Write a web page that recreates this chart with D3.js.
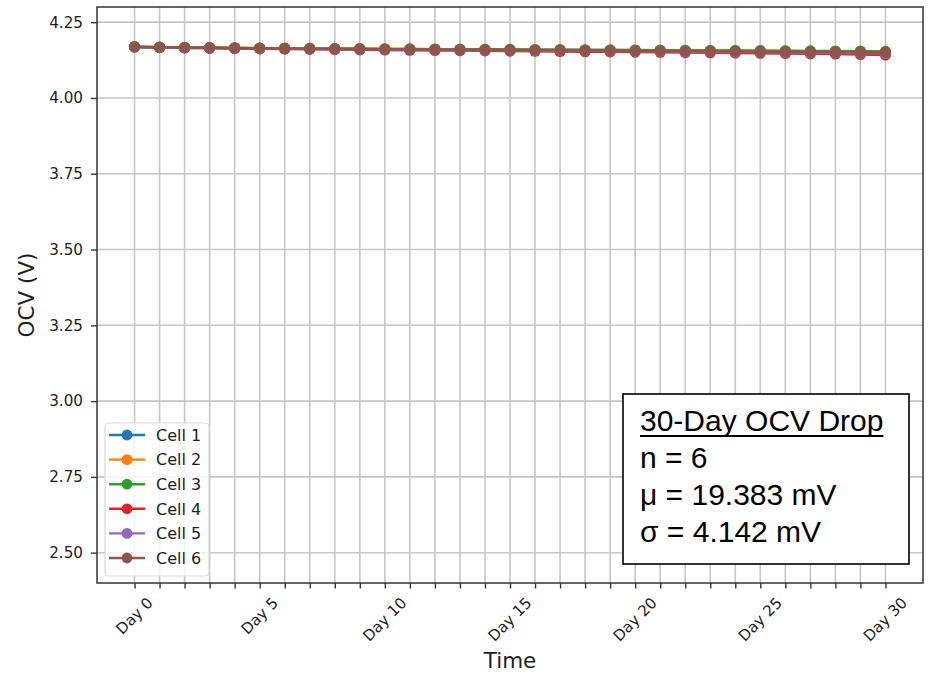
<!DOCTYPE html>
<html><head><meta charset="utf-8">
<script src="https://cdn.jsdelivr.net/npm/d3@7"></script>
<style>body{margin:0;background:#fff}</style>
</head><body><svg id="c" width="930" height="676"></svg>
<script>
// ---- data ----
const days = [0,1,2,3,4,5,6,7,8,9,10,11,12,13,14,15,16,17,18,19,20,21,22,23,24,25,26,27,28,29,30];
const labeledDays = [0,5,10,15,20,25,30];
const yTicks = [2.50,2.75,3.00,3.25,3.50,3.75,4.00,4.25];
const cellNames = ["Cell 1","Cell 2","Cell 3","Cell 4","Cell 5","Cell 6"];
const cellColors = ["#1f77b4","#ff7f0e","#2ca02c","#d62728","#9467bd","#8c564b"];
const cell1 = [4.1685,4.1672,4.1662,4.1653,4.1645,4.1638,4.1631,4.1625,4.1619,4.1613,4.1608,4.1602,4.1597,4.1592,4.1587,4.1582,4.1577,4.1572,4.1567,4.1562,4.1557,4.1552,4.1547,4.1542,4.1537,4.1532,4.1527,4.1521,4.1514,4.1507,4.1498];
const cell2 = [4.1690,4.1678,4.1669,4.1661,4.1654,4.1648,4.1642,4.1636,4.1631,4.1626,4.1621,4.1616,4.1611,4.1607,4.1603,4.1598,4.1594,4.1590,4.1585,4.1581,4.1577,4.1572,4.1568,4.1564,4.1559,4.1555,4.1550,4.1545,4.1540,4.1533,4.1526];
const cell3 = [4.1682,4.1671,4.1663,4.1656,4.1650,4.1644,4.1639,4.1634,4.1629,4.1625,4.1620,4.1616,4.1612,4.1608,4.1604,4.1600,4.1596,4.1592,4.1588,4.1584,4.1580,4.1576,4.1572,4.1568,4.1564,4.1560,4.1556,4.1552,4.1547,4.1542,4.1536];
const cell4 = [4.1680,4.1662,4.1649,4.1638,4.1628,4.1619,4.1611,4.1603,4.1595,4.1588,4.1581,4.1574,4.1567,4.1560,4.1553,4.1546,4.1540,4.1533,4.1526,4.1519,4.1512,4.1505,4.1498,4.1491,4.1484,4.1476,4.1468,4.1459,4.1449,4.1435,4.1419];
const cell5 = [4.1688,4.1673,4.1661,4.1651,4.1642,4.1634,4.1627,4.1620,4.1613,4.1607,4.1601,4.1595,4.1589,4.1583,4.1577,4.1571,4.1566,4.1560,4.1554,4.1548,4.1542,4.1536,4.1530,4.1524,4.1518,4.1512,4.1505,4.1498,4.1490,4.1480,4.1468];
const cell6 = [4.1686,4.1673,4.1663,4.1654,4.1646,4.1639,4.1632,4.1626,4.1620,4.1614,4.1609,4.1603,4.1598,4.1593,4.1588,4.1583,4.1578,4.1573,4.1568,4.1563,4.1558,4.1553,4.1548,4.1543,4.1538,4.1533,4.1528,4.1522,4.1516,4.1509,4.1501];
const statsTitle = "30-Day OCV Drop";
const statsLines = ["n = 6","μ = 19.383 mV","σ = 4.142 mV"];
const xLabel = "Time", yLabel = "OCV (V)";

const series = [cell1,cell2,cell3,cell4,cell5,cell6].map((v,i)=>({name:cellNames[i],color:cellColors[i],values:v}));

// ---- layout ----
const L=97,R=923,T=7,B=583;
const svg=d3.select("#c");
const x=d3.scaleLinear().domain([-1.5,31.5]).range([L,R]);
const y=d3.scaleLinear().domain([2.4,4.3]).range([B,T]);
const tickFont="DejaVu Sans, sans-serif";
const ink="#1e1e1e";
const tickSize=15.2;

// grid
const grid=svg.append("g");
grid.selectAll("line.gx").data(days).join("line")
  .attr("x1",d=>x(d)).attr("x2",d=>x(d)).attr("y1",T).attr("y2",B)
  .attr("stroke","#c6c6c6").attr("stroke-width",1.6);
grid.selectAll("line.gy").data(yTicks).join("line")
  .attr("y1",d=>y(d)).attr("y2",d=>y(d)).attr("x1",L).attr("x2",R)
  .attr("stroke","#c6c6c6").attr("stroke-width",1.6);

// axes
const xAxis=svg.append("g").attr("transform",`translate(0,${B})`)
  .call(d3.axisBottom(x).tickValues(days).tickSize(5.5).tickFormat(""));
const yAxis=svg.append("g").attr("transform",`translate(${L},0)`)
  .call(d3.axisLeft(y).tickValues(yTicks).tickSize(6).tickPadding(8).tickFormat(d3.format(".2f")));
[xAxis,yAxis].forEach(a=>{a.select(".domain").remove();a.selectAll(".tick line").attr("stroke","#333").attr("stroke-width",1.4);});
yAxis.selectAll(".tick text").attr("font-family",tickFont).attr("font-size",tickSize).attr("fill",ink);

// rotated x labels
const xl=svg.append("g");
labeledDays.forEach(d=>{
  const t=xl.append("text").text("Day "+d).attr("font-family",tickFont).attr("font-size",tickSize)
    .attr("fill",ink).attr("text-anchor","middle").attr("dominant-baseline","central");
  const len=t.node().getComputedTextLength();
  const h=(len+tickSize)*Math.SQRT1_2;
  const cy=595+h/2;
  t.attr("transform",`translate(${x(d)},${cy}) rotate(-45)`);
});

// series
const line=d3.line().x((d,i)=>x(days[i])).y(d=>y(d));
series.forEach(s=>{
  const g=svg.append("g");
  g.append("path").attr("d",line(s.values)).attr("fill","none").attr("stroke",s.color).attr("stroke-width",2.4);
  g.selectAll("circle").data(s.values).join("circle")
    .attr("cx",(d,i)=>x(days[i])).attr("cy",d=>y(d)).attr("r",5.6).attr("fill",s.color);
});

// frame
svg.append("rect").attr("x",L).attr("y",T).attr("width",R-L).attr("height",B-T)
  .attr("fill","none").attr("stroke","#333").attr("stroke-width",1.5);

// axis labels
svg.append("text").text(xLabel).attr("x",(L+R)/2).attr("y",668).attr("text-anchor","middle")
  .attr("font-family",tickFont).attr("font-size",21.5).attr("fill",ink);
svg.append("text").text(yLabel).attr("transform",`translate(34,${(T+B)/2}) rotate(-90)`).attr("text-anchor","middle")
  .attr("font-family",tickFont).attr("font-size",21.5).attr("fill",ink);

// legend
const lg=svg.append("g");
lg.append("rect").attr("x",105).attr("y",423).attr("width",104).attr("height",153).attr("rx",4)
  .attr("fill","#fff").attr("fill-opacity",0.8).attr("stroke","#d9d9d9").attr("stroke-width",1.2);
series.forEach((s,i)=>{
  const cy=435+i*24.6;
  lg.append("line").attr("x1",109).attr("x2",145).attr("y1",cy).attr("y2",cy).attr("stroke",s.color).attr("stroke-width",2.4);
  lg.append("circle").attr("cx",127).attr("cy",cy).attr("r",5.4).attr("fill",s.color);
  lg.append("text").text(s.name).attr("x",156).attr("y",cy+5.8).attr("font-family",tickFont).attr("font-size",16).attr("fill",ink);
});

// stats box
const sb=svg.append("g");
sb.append("rect").attr("x",623).attr("y",394).attr("width",286).attr("height",170).attr("fill","#fff").attr("stroke","#000").attr("stroke-width",1.6);
const boxFont="Liberation Sans, Arial, sans-serif";
const tt=sb.append("text").text(statsTitle).attr("x",640).attr("y",431).attr("font-family",boxFont).attr("font-size",30).attr("fill","#000");
const tl=tt.node().getComputedTextLength();
sb.append("line").attr("x1",640).attr("x2",640+tl).attr("y1",436).attr("y2",436).attr("stroke","#000").attr("stroke-width",2);
statsLines.forEach((s,i)=>{
  sb.append("text").text(s).attr("x",640).attr("y",468+i*37).attr("font-family",boxFont).attr("font-size",30).attr("fill","#000");
});
</script></body></html>
